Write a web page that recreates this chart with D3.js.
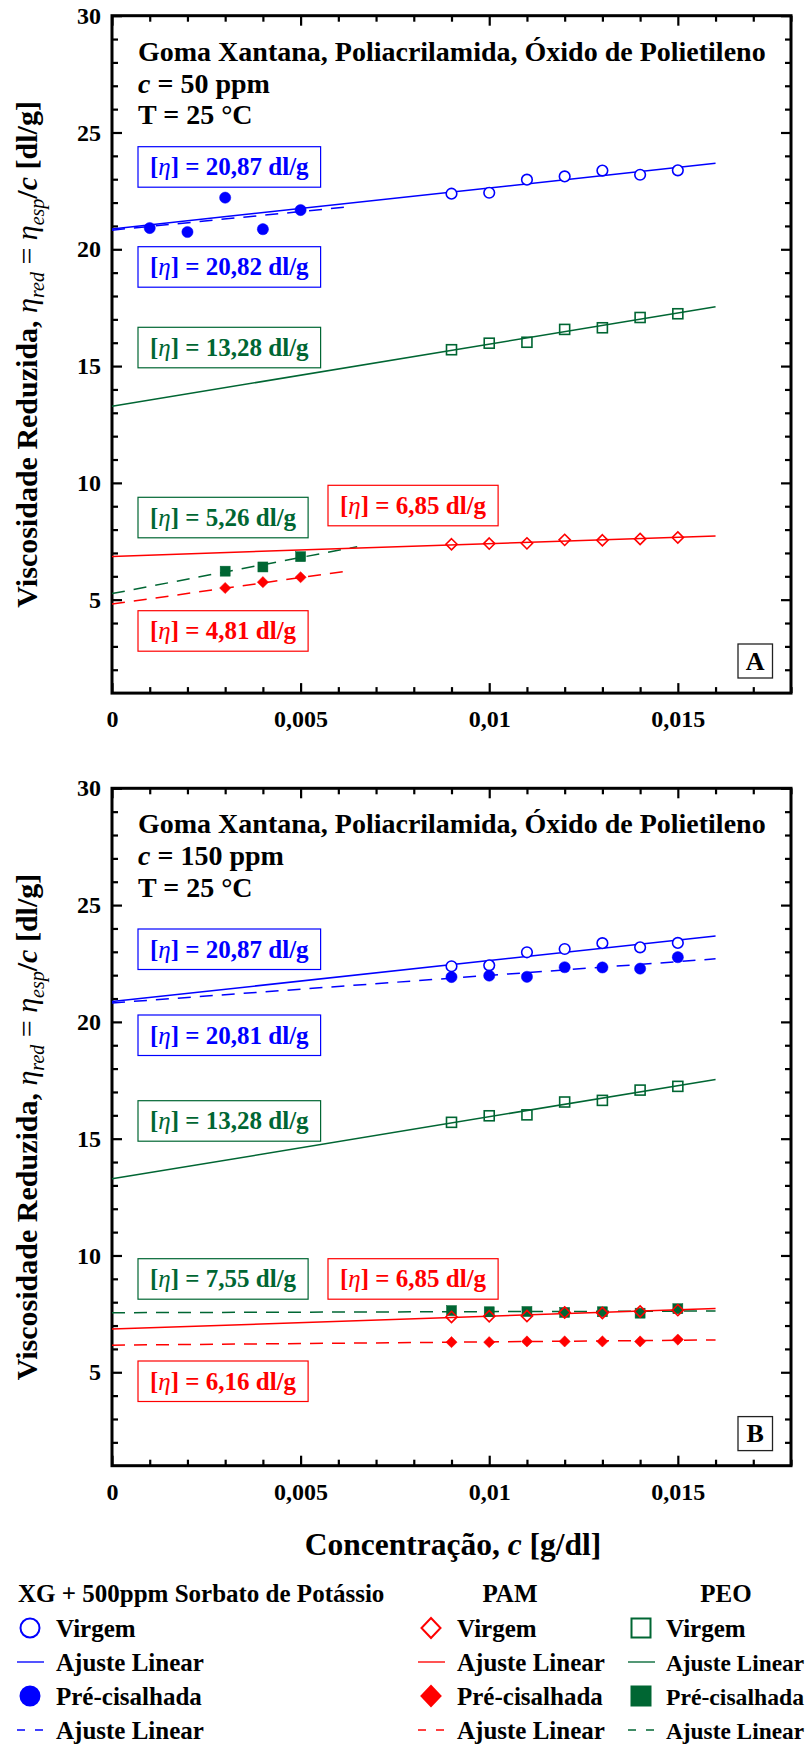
<!DOCTYPE html>
<html><head><meta charset="utf-8">
<script src="https://cdn.jsdelivr.net/npm/d3@7"></script>
<style>
html,body{margin:0;padding:0;background:#fff;}
svg{display:block;font-family:"Liberation Serif","Times New Roman",serif;}
</style></head>
<body><svg id="c" width="812" height="1744"></svg>
<script>
// ---------------- DATA ----------------
const xVirgin = [0.009, 0.010, 0.011, 0.012, 0.013, 0.014, 0.015];
const xgVirgin  = [22.38, 22.42, 22.98, 23.12, 23.37, 23.19, 23.38];
const pamVirgin = [7.37, 7.40, 7.41, 7.56, 7.54, 7.60, 7.66];
const peoVirgin = [15.70, 15.98, 16.02, 16.57, 16.64, 17.08, 17.24];

// panel A (50 ppm) pre-sheared
const xgPreX50  = [0.001, 0.002, 0.003, 0.004, 0.005];
const xgPre50   = [20.91, 20.74, 22.21, 20.86, 21.68];
const pamPreX50 = [0.003, 0.004, 0.005];
const pamPre50  = [5.50, 5.75, 5.96];
const peoPreX50 = [0.003, 0.004, 0.005];
const peoPre50  = [6.22, 6.40, 6.84];

// panel B (150 ppm) pre-sheared
const xPre150   = [0.009, 0.010, 0.011, 0.012, 0.013, 0.014, 0.015];
const xgPre150  = [21.92, 21.98, 21.93, 22.34, 22.33, 22.28, 22.77];
const pamPre150 = [6.29, 6.29, 6.32, 6.32, 6.32, 6.32, 6.40];
const peoPre150 = [7.64, 7.59, 7.60, 7.56, 7.59, 7.53, 7.72];

// linear fits: [intercept, slope, x end]
const fitsA = {
  xgV:  [20.87, 175.6, 0.016], xgP:  [20.82, 159, 0.0063],
  pamV: [6.85, 55, 0.016],     pamP: [4.81, 227, 0.0063],
  peoV: [13.28, 266, 0.016],   peoP: [5.26, 309, 0.0065]
};
const fitsB = {
  xgV:  [20.87, 175.6, 0.016], xgP:  [20.81, 118, 0.016],
  pamV: [6.85, 55, 0.016],     pamP: [6.16, 14, 0.016],
  peoV: [13.28, 266, 0.016],   peoP: [7.55, 4.5, 0.016]
};

const intrinsicA = ["20,87", "20,82", "13,28", "5,26", "6,85", "4,81"];
const intrinsicB = ["20,87", "20,81", "13,28", "7,55", "6,85", "6,16"];

const xTicks = [0, 0.005, 0.01, 0.015];
const yTicks = [5, 10, 15, 20, 25, 30];
const titleLine = "Goma Xantana, Poliacrilamida, Óxido de Polietileno";
const concA = "50 ppm", concB = "150 ppm";
const tempLine = "T = 25 °C";
const panelLetters = ["A", "B"];

const legendGroups = ["XG + 500ppm Sorbato de Potássio", "PAM", "PEO"];
const legendItems = ["Virgem", "Ajuste Linear", "Pré-cisalhada", "Ajuste Linear"];

// ---------------- STYLE / LAYOUT ----------------
const BLUE = "#0000ff", RED = "#ff0000", GREEN = "#006633";
const X0 = 112, X1 = 791, PH = 677.4;
const panelTops = [15.7, 788.3];
const FONT = '"Liberation Serif","Times New Roman",serif';
// label boxes: [left x, top y relative to panel top, colour]
const boxLayoutA = [[138,131,BLUE],[138,231,BLUE],[138,311.6,GREEN],[138,481.6,GREEN],[328,469.6,RED],[138,595,RED]];
const boxLayoutB = [[138,140.7,BLUE],[138,226.7,BLUE],[138,312.4,GREEN],[138,470.4,GREEN],[328,470.4,RED],[138,572.7,RED]];

const svg = d3.select("#c");
const x = d3.scaleLinear().domain([0, 0.018]).range([X0, X1]);
const fmt = d => d === 0 ? "0" : String(d).replace(".", ",");

function diamondPath(h){ return `M0,${-h}L${h},0L0,${h}L${-h},0Z`; }

function drawPanel(top, P){
  const y = d3.scaleLinear().domain([1, 30]).range([top + PH, top]);
  const g = svg.append("g");

  const minorX = d3.range(1, 19).map(i => i / 1000).filter(v => Math.round(v * 1000) % 5 !== 0);
  const minorY = d3.range(2, 30).filter(v => v % 5 !== 0);
  const styleAxis = sel => { sel.select(".domain").remove(); sel.selectAll("line").attr("stroke", "#000").attr("stroke-width", 2.2); };

  g.append("g").attr("transform", `translate(0,${top + PH})`)
    .call(d3.axisBottom(x).tickValues(xTicks).tickSize(-10).tickPadding(17).tickFormat(fmt))
    .call(styleAxis)
    .call(s => s.selectAll("text").attr("font-family", FONT).attr("font-weight", "bold").attr("font-size", 24).attr("fill", "#000"));
  g.append("g").attr("transform", `translate(0,${top + PH})`)
    .call(d3.axisBottom(x).tickValues(minorX).tickSize(-6).tickFormat("")).call(styleAxis);
  g.append("g").attr("transform", `translate(0,${top})`)
    .call(d3.axisTop(x).tickValues(xTicks).tickSize(-10).tickFormat("")).call(styleAxis);
  g.append("g").attr("transform", `translate(0,${top})`)
    .call(d3.axisTop(x).tickValues(minorX).tickSize(-6).tickFormat("")).call(styleAxis);

  g.append("g").attr("transform", `translate(${X0},0)`)
    .call(d3.axisLeft(y).tickValues(yTicks).tickSize(-10).tickPadding(11).tickFormat(d3.format("d")))
    .call(styleAxis)
    .call(s => s.selectAll("text").attr("font-family", FONT).attr("font-weight", "bold").attr("font-size", 24).attr("fill", "#000"));
  g.append("g").attr("transform", `translate(${X0},0)`)
    .call(d3.axisLeft(y).tickValues(minorY).tickSize(-6).tickFormat("")).call(styleAxis);
  g.append("g").attr("transform", `translate(${X1},0)`)
    .call(d3.axisRight(y).tickValues(yTicks).tickSize(-10).tickFormat("")).call(styleAxis);
  g.append("g").attr("transform", `translate(${X1},0)`)
    .call(d3.axisRight(y).tickValues(minorY).tickSize(-6).tickFormat("")).call(styleAxis);

  g.append("rect").attr("x", X0).attr("y", top).attr("width", X1 - X0).attr("height", PH)
    .attr("fill", "none").attr("stroke", "#000").attr("stroke-width", 3);

  // fit lines
  const fitLine = (f, color, dashed) => {
    g.append("line")
      .attr("x1", x(0)).attr("y1", y(f[0]))
      .attr("x2", x(f[2])).attr("y2", y(f[0] + f[1] * f[2]))
      .attr("stroke", color).attr("stroke-width", 1.5)
      .attr("stroke-dasharray", dashed ? "13,9" : null);
  };
  fitLine(P.fits.xgV, BLUE, false);
  fitLine(P.fits.xgP, BLUE, true);
  fitLine(P.fits.peoV, GREEN, false);
  fitLine(P.fits.peoP, GREEN, true);
  fitLine(P.fits.pamV, RED, false);
  fitLine(P.fits.pamP, RED, true);

  // markers
  const pts = (xs, ys) => xs.map((v, i) => [v, ys[i]]);
  const circles = (data, color, filled) => g.append("g").selectAll("circle").data(data).join("circle")
    .attr("cx", d => x(d[0])).attr("cy", d => y(d[1])).attr("r", filled ? 5.6 : 5.3)
    .attr("fill", filled ? color : "#fff").attr("stroke", color).attr("stroke-width", filled ? 0.5 : 1.6);
  const squares = (data, color, filled) => g.append("g").selectAll("rect").data(data).join("rect")
    .attr("x", d => x(d[0]) - 5).attr("y", d => y(d[1]) - 5).attr("width", 10).attr("height", 10)
    .attr("fill", filled ? color : "none").attr("stroke", color).attr("stroke-width", filled ? 0.5 : 1.6);
  const diamonds = (data, color, filled) => g.append("g").selectAll("path").data(data).join("path")
    .attr("transform", d => `translate(${x(d[0])},${y(d[1])})`).attr("d", diamondPath(5.6))
    .attr("fill", filled ? color : "none").attr("stroke", color).attr("stroke-width", filled ? 0.5 : 1.6);

  circles(pts(xVirgin, xgVirgin), BLUE, false);
  squares(pts(xVirgin, peoVirgin), GREEN, false);
  squares(pts(P.peoPreX, P.peoPre), GREEN, true);
  diamonds(pts(xVirgin, pamVirgin), RED, false);
  diamonds(pts(P.pamPreX, P.pamPre), RED, true);
  circles(pts(P.xgPreX, P.xgPre), BLUE, true);

  // header text
  const t = g.append("g").attr("font-family", FONT).attr("font-weight", "bold").attr("font-size", 28).attr("fill", "#000");
  t.append("text").attr("x", 138).attr("y", top + 45).text(titleLine);
  const l2 = t.append("text").attr("x", 138).attr("y", top + 77);
  l2.append("tspan").attr("font-style", "italic").text("c");
  l2.append("tspan").text(" = " + P.conc);
  t.append("text").attr("x", 138).attr("y", top + 108.5).text(tempLine);

  // intrinsic viscosity boxes
  P.boxes.forEach((b, i) => {
    const bg = g.append("g");
    const tx = bg.append("text").attr("x", b[0] + 12).attr("y", top + b[1] + 28.5)
      .attr("font-family", FONT).attr("font-weight", "bold").attr("font-size", 25).attr("fill", b[2]);
    tx.append("tspan").text("[");
    tx.append("tspan").attr("font-style", "italic").attr("font-weight", "normal").text("η");
    tx.append("tspan").text("] = " + P.labels[i] + " dl/g");
    const w = tx.node().getComputedTextLength();
    bg.insert("rect", "text").attr("x", b[0]).attr("y", top + b[1]).attr("width", w + 24).attr("height", 40.5)
      .attr("fill", "#fff").attr("stroke", b[2]).attr("stroke-width", 1.2);
  });

  // panel letter
  g.append("rect").attr("x", 738).attr("y", top + 628.3).attr("width", 34.5).attr("height", 34)
    .attr("fill", "#fff").attr("stroke", "#222").attr("stroke-width", 1.3);
  g.append("text").attr("x", 755.2).attr("y", top + 654).attr("text-anchor", "middle")
    .attr("font-family", FONT).attr("font-weight", "bold").attr("font-size", 26).text(P.letter);

  // y axis label
  const yl = g.append("text").attr("transform", `translate(37,${top + PH / 2}) rotate(-90)`)
    .attr("text-anchor", "middle").attr("font-family", FONT).attr("font-weight", "bold").attr("font-size", 30).attr("fill", "#000");
  yl.append("tspan").text("Viscosidade Reduzida, ");
  yl.append("tspan").attr("font-style", "italic").attr("font-weight", "normal").text("η");
  yl.append("tspan").attr("font-style", "italic").attr("font-weight", "normal").attr("font-size", 20).attr("dy", 7).text("red");
  yl.append("tspan").attr("dy", -7).attr("font-weight", "normal").text(" = ");
  yl.append("tspan").attr("font-style", "italic").attr("font-weight", "normal").text("η");
  yl.append("tspan").attr("font-style", "italic").attr("font-weight", "normal").attr("font-size", 20).attr("dy", 7).text("esp");
  yl.append("tspan").attr("dy", -7).text("/");
  yl.append("tspan").attr("font-style", "italic").text("c");
  yl.append("tspan").text(" [dl/g]");
}

drawPanel(panelTops[0], {
  fits: fitsA, labels: intrinsicA, boxes: boxLayoutA, conc: concA, letter: panelLetters[0],
  xgPreX: xgPreX50, xgPre: xgPre50, pamPreX: pamPreX50, pamPre: pamPre50, peoPreX: peoPreX50, peoPre: peoPre50
});
drawPanel(panelTops[1], {
  fits: fitsB, labels: intrinsicB, boxes: boxLayoutB, conc: concB, letter: panelLetters[1],
  xgPreX: xPre150, xgPre: xgPre150, pamPreX: xPre150, pamPre: pamPre150, peoPreX: xPre150, peoPre: peoPre150
});

// x axis title
const xt = svg.append("text").attr("x", 453).attr("y", 1555).attr("text-anchor", "middle")
  .attr("font-family", FONT).attr("font-weight", "bold").attr("font-size", 31.5);
xt.append("tspan").text("Concentração, ");
xt.append("tspan").attr("font-style", "italic").text("c");
xt.append("tspan").text(" [g/dl]");

// legend
const L = svg.append("g").attr("font-family", FONT).attr("font-weight", "bold").attr("font-size", 25).attr("fill", "#000");
const headerX = [[18, "start"], [510, "middle"], [726, "middle"]];
legendGroups.forEach((h, i) => L.append("text").attr("x", headerX[i][0]).attr("y", 1602).attr("text-anchor", headerX[i][1]).text(h));
const colSym = [30, 431, 641], colTxt = [56, 457, 666], rowBase = [1637, 1671, 1705, 1739];
const colColors = [BLUE, RED, GREEN];
colColors.forEach((c, ci) => {
  legendItems.forEach((it, ri) => {
    const tx = L.append("text").attr("x", colTxt[ci]).attr("y", rowBase[ri]).text(it);
    const w = tx.node().getComputedTextLength();
    const room = 804 - colTxt[ci];
    if (w > room) tx.attr("font-size", (25 * room / w).toFixed(2));
  });
  const cx = colSym[ci];
  const sym = (ri, filled) => {
    const cy = rowBase[ri] - 9;
    if (ci === 0) L.append("circle").attr("cx", cx).attr("cy", cy).attr("r", 9.5)
      .attr("fill", filled ? c : "none").attr("stroke", c).attr("stroke-width", 2);
    else if (ci === 1) L.append("path").attr("transform", `translate(${cx},${cy})`).attr("d", "M0,-10L9.5,0L0,10L-9.5,0Z")
      .attr("fill", filled ? c : "none").attr("stroke", c).attr("stroke-width", 2);
    else L.append("rect").attr("x", cx - 9.5).attr("y", cy - 9.5).attr("width", 19).attr("height", 19)
      .attr("fill", filled ? c : "none").attr("stroke", c).attr("stroke-width", 2);
  };
  const seg = (ri, dashed) => L.append("line").attr("x1", cx - 13).attr("x2", cx + 14)
    .attr("y1", rowBase[ri] - 9).attr("y2", rowBase[ri] - 9).attr("stroke", c).attr("stroke-width", 1.8)
    .attr("stroke-opacity", 0.75).attr("stroke-dasharray", dashed ? "8,10" : null);
  sym(0, false); seg(1, false); sym(2, true); seg(3, true);
});
</script></body></html>
